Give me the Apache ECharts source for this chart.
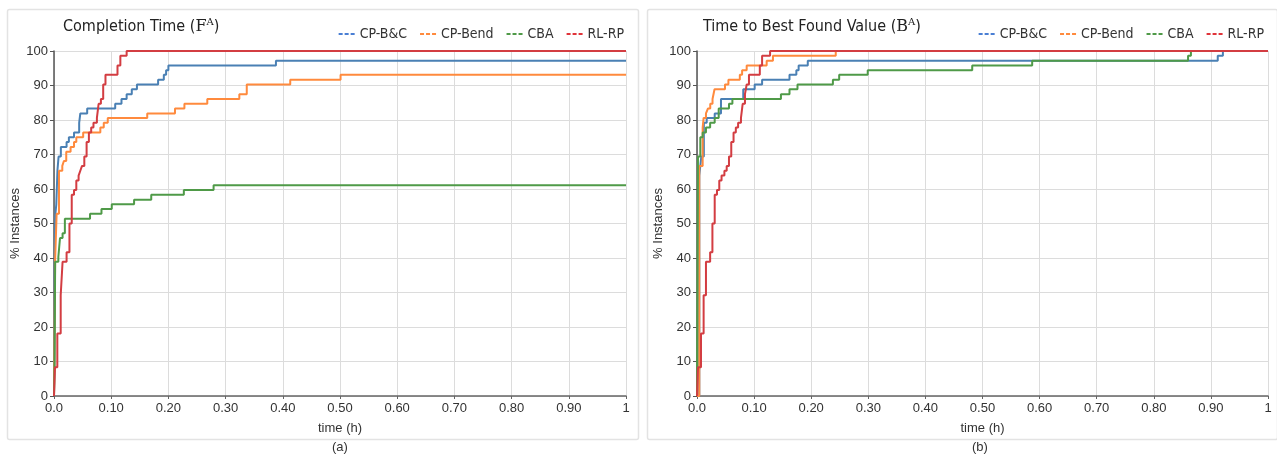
<!DOCTYPE html>
<html>
<head>
<meta charset="utf-8">
<script src="https://cdn.jsdelivr.net/npm/echarts@6/dist/echarts.min.js"></script>
<style>
html,body{margin:0;padding:0;background:#fff;}
#c{width:1277px;height:458px;}
</style>
</head>
<body>
<div id="c"></div>
<script>
// ---- Data (time in hours, % instances) ----
const seriesNames = ['CP-B&C', 'CP-Bend', 'CBA', 'RL-RP'];
const xTicks = [0, 0.1, 0.2, 0.3, 0.4, 0.5, 0.6, 0.7, 0.8, 0.9, 1];

// (a) Completion Time F^A
const fa_cpbc = [[0,0],[0.002,52],[0.004,55.5],[0.006,65.3],[0.008,69.4],[0.012,72.2],[0.022,73.6],[0.026,75],[0.035,76.4],[0.044,79.2],[0.046,81.9],[0.058,83.3],[0.107,84.7],[0.118,86.1],[0.127,87.5],[0.136,88.9],[0.145,90.3],[0.182,91.7],[0.192,93.1],[0.196,94.4],[0.2,95.8],[0.388,97.2],[1,97.2]];
const fa_cpbend = [[0,0],[0.002,39.5],[0.0046,52.8],[0.0087,65.3],[0.0145,66.7],[0.0173,68.1],[0.0214,70.8],[0.029,72.2],[0.035,73.6],[0.039,75],[0.051,76.4],[0.081,77.8],[0.087,79.2],[0.094,80.6],[0.163,81.9],[0.2115,83.3],[0.228,84.7],[0.268,86.1],[0.324,87.5],[0.337,90.3],[0.413,91.7],[0.501,93.1],[1,93.1]];
const fa_cba = [[0,0],[0.001,8.3],[0.002,38.9],[0.0076,40.3],[0.0105,45.8],[0.015,47.2],[0.019,51.4],[0.063,52.8],[0.083,54.2],[0.101,55.6],[0.14,56.9],[0.17,58.3],[0.227,59.7],[0.279,61.1],[1,61.1]];
const fa_rlrp = [[0,0],[0.0017,8.3],[0.0058,18.1],[0.0117,29.2],[0.015,38.9],[0.022,41.7],[0.027,50],[0.031,58.3],[0.035,59.7],[0.039,62.5],[0.043,63.9],[0.046,65.3],[0.049,66.7],[0.053,69.4],[0.057,73.6],[0.061,76.4],[0.065,77.8],[0.069,79.2],[0.075,80.6],[0.078,84.7],[0.082,86.1],[0.086,90.3],[0.09,93.1],[0.111,95.8],[0.116,98.6],[0.127,100],[1,100]];

// (b) Time to Best Found Value B^A
const ba_cpbc = [[0,0],[0.004,63.9],[0.0075,69.4],[0.012,79.2],[0.017,80.6],[0.031,81.9],[0.042,86.1],[0.081,88.9],[0.101,90.3],[0.114,91.7],[0.162,93.1],[0.174,94.4],[0.178,95.8],[0.194,97.2],[0.912,98.6],[0.921,100],[1,100]];
const ba_cpbend = [[0,0],[0.004,66.7],[0.0099,77.8],[0.0116,80.6],[0.0157,81.9],[0.0191,83.3],[0.0232,84.7],[0.0272,86.1],[0.0307,88.9],[0.049,90.3],[0.055,91.7],[0.075,93.1],[0.079,94.4],[0.087,95.8],[0.122,97.2],[0.133,98.6],[0.243,100],[1,100]];
const ba_cba = [[0,0],[0.0017,69.4],[0.0058,75],[0.0099,76.4],[0.0157,77.8],[0.023,79.2],[0.031,80.6],[0.038,83.3],[0.056,84.7],[0.062,86.1],[0.147,87.5],[0.162,88.9],[0.176,90.3],[0.238,91.7],[0.249,93.1],[0.299,94.4],[0.482,95.8],[0.587,97.2],[0.86,98.6],[0.865,100],[1,100]];
const ba_rlrp = [[0,0],[0.0017,8.3],[0.007,18.1],[0.0116,29.2],[0.0157,38.9],[0.023,41.7],[0.027,50],[0.031,58.3],[0.035,59.7],[0.039,62.5],[0.043,63.9],[0.048,65.3],[0.052,66.7],[0.056,69.4],[0.06,73.6],[0.064,76.4],[0.068,77.8],[0.072,79.2],[0.077,80.6],[0.08,84.7],[0.084,87.5],[0.087,90.3],[0.091,93.1],[0.11,95.8],[0.114,98.6],[0.128,100],[1,100]];

const colors = ['#4a80b4', '#ff8a3d', '#4f9a48', '#d33d42'];
const legendColors = ['#4a7fd4', '#ff8a3d', '#4f9a48', '#e0343a'];

const panelA = [fa_cpbc, fa_cpbend, fa_cba, fa_rlrp];
const panelB = [ba_cpbc, ba_cpbend, ba_cba, ba_rlrp];

const chart = echarts.init(document.getElementById('c'), null, {renderer: 'canvas'});

const textFont = "'Liberation Sans', Arial, sans-serif";
const narrowFont = "'Liberation Sans Narrow', 'DejaVu Sans Condensed', 'Liberation Sans', sans-serif";
const serifFont = "'DejaVu Serif', 'Liberation Serif', serif";

function xAxis(gi) {
  return {
    type: 'value', gridIndex: gi, min: 0, max: 1, interval: 0.1,
    name: 'time (h)', nameLocation: 'middle', nameGap: 26,
    nameTextStyle: {fontFamily: textFont, fontSize: 13, color: '#333'},
    axisLine: {show: true, lineStyle: {color: '#666', width: 1.5}},
    axisTick: {show: true, length: 3, lineStyle: {color: '#666'}},
    axisLabel: {fontFamily: textFont, fontSize: 13, color: '#333', margin: 6,
      formatter: v => v === 0 ? '0.0' : (Math.abs(v - 1) < 1e-9 ? '1' : v.toFixed(2))},
    splitLine: {show: true, lineStyle: {color: '#dcdcdc', width: 1}}
  };
}
function yAxis(gi) {
  return {
    type: 'value', gridIndex: gi, min: 0, max: 100, interval: 10,
    name: '% Instances', nameLocation: 'middle', nameGap: 29, nameRotate: 90,
    nameTextStyle: {fontFamily: textFont, fontSize: 13, color: '#333'},
    axisLine: {show: true, lineStyle: {color: '#555', width: 1.5}},
    axisTick: {show: true, length: 4, lineStyle: {color: '#555'}},
    axisLabel: {fontFamily: textFont, fontSize: 13, color: '#333', margin: 6},
    splitLine: {show: true, lineStyle: {color: '#dcdcdc', width: 1}}
  };
}

const series = [];
[panelA, panelB].forEach((panel, gi) => {
  panel.forEach((data, i) => {
    series.push({
      type: 'line', name: seriesNames[i], xAxisIndex: gi, yAxisIndex: gi,
      step: 'end', showSymbol: false, symbol: 'none', data: data,
      lineStyle: {width: 2, color: colors[i]}, itemStyle: {color: legendColors[i]},
      z: 2 + i, animation: false
    });
  });
});

const dashIcon = 'path://M0,0h4v2h-4z M6,0h4v2h-4z M12,0h4v2h-4z';

function legend(right) {
  return {
    top: 22, right: right, itemWidth: 16, itemHeight: 2, itemGap: 13, icon: dashIcon,
    data: seriesNames,
    textStyle: {fontFamily: narrowFont, fontSize: 14, color: '#333'}
  };
}

function titleOpt(left, pre, letter) {
  return {
    left: left, top: 12,
    text: '{t|' + pre + '(}{m|' + letter + '}{s|A}{t|)}',
    textStyle: {
      fontWeight: 'normal',
      rich: {
        t: {fontFamily: narrowFont, fontSize: 16, fontWeight: 'normal', color: '#222'},
        m: {fontFamily: serifFont, fontSize: 16, fontWeight: 'normal', color: '#222'},
        s: {fontFamily: serifFont, fontSize: 10, fontWeight: 'normal', color: '#222', padding: [0, 0, 10, 0]}
      }
    }
  };
}

chart.setOption({
  backgroundColor: '#ffffff',
  animation: false,
  title: [titleOpt(58, 'Completion Time ', 'F'), titleOpt(698, 'Time to Best Found Value ', 'B')],
  legend: [legend(648), legend(8)],
  grid: [
    {left: 54, top: 51, width: 572, height: 345},
    {left: 697, top: 51, width: 571, height: 345}
  ],
  xAxis: [xAxis(0), xAxis(1)],
  yAxis: [yAxis(0), yAxis(1)],
  series: series,
  graphic: [
    {type: 'rect', left: 5, top: 7, shape: {width: 631, height: 430, r: 2}, style: {fill: 'none', stroke: '#e3e3e3', lineWidth: 1.5}, silent: true, z: -1},
    {type: 'rect', left: 645, top: 7, shape: {width: 630, height: 430, r: 2}, style: {fill: 'none', stroke: '#e3e3e3', lineWidth: 1.5}, silent: true, z: -1},
    {type: 'text', left: 332, top: 441, style: {text: '(a)', fontFamily: textFont, fontSize: 13, fill: '#333'}},
    {type: 'text', left: 972, top: 441, style: {text: '(b)', fontFamily: textFont, fontSize: 13, fill: '#333'}}
  ]
});
</script>
</body>
</html>
